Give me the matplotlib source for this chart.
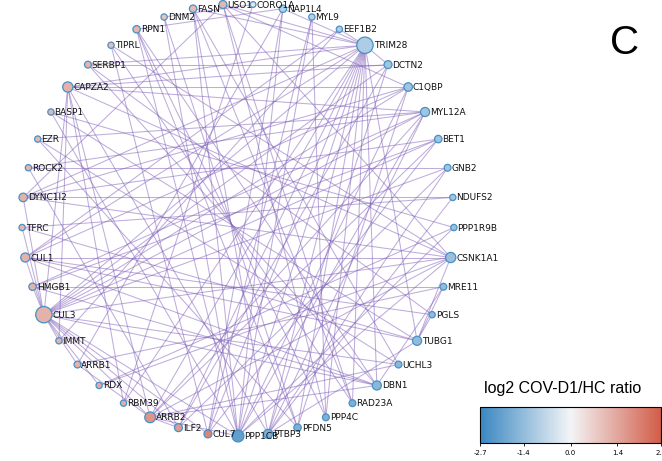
import numpy as np
import matplotlib
matplotlib.use('Agg')
import matplotlib.pyplot as plt
from matplotlib.collections import LineCollection
from matplotlib.colors import LinearSegmentedColormap, Normalize

# proteins in circle order, counter-clockwise starting at USO1 (top)
genes = ['USO1', 'FASN', 'DNM2', 'RPN1', 'TIPRL', 'SERBP1', 'CAPZA2', 'BASP1',
         'EZR', 'ROCK2', 'DYNC1I2', 'TFRC', 'CUL1', 'HMGB1', 'CUL3', 'IMMT',
         'ARRB1', 'RDX', 'RBM39', 'ARRB2', 'ILF2', 'CUL7', 'PPP1CB', 'PTBP3',
         'PFDN5', 'PPP4C', 'RAD23A', 'DBN1', 'UCHL3', 'TUBG1', 'PGLS', 'MRE11',
         'CSNK1A1', 'PPP1R9B', 'NDUFS2', 'GNB2', 'BET1', 'MYL12A', 'C1QBP',
         'DCTN2', 'TRIM28', 'EEF1B2', 'MYL9', 'NAP1L4', 'CORO1A']

# log2 COV-D1/HC ratio per protein
log2_ratio = [1.1, 1.0, 0.9, 1.1, 1.0, 1.1, 1.2, 1.1,
              1.1, 1.1, 1.2, 1.1, 1.2, 1.2, 1.2, 1.2,
              1.2, 1.3, 1.3, 1.7, 1.6, 2.0, -2.1, -1.7,
              -1.7, -1.7, -1.7, -1.5, -1.5, -1.4, -1.4, -1.4,
              -1.3, -1.3, -1.2, -1.2, -1.2, -1.2, -1.2,
              -1.2, -1.0, -1.0, -0.9, -0.9, 0.3]

edges = [
    ('TRIM28', 'USO1'), ('TRIM28', 'FASN'), ('TRIM28', 'EEF1B2'), ('TRIM28', 'NAP1L4'),
    ('TRIM28', 'DCTN2'), ('TRIM28', 'CAPZA2'), ('TRIM28', 'SERBP1'), ('TRIM28', 'DBN1'),
    ('TRIM28', 'TUBG1'), ('TRIM28', 'PPP1CB'), ('TRIM28', 'CUL7'), ('TRIM28', 'PFDN5'),
    ('TRIM28', 'ARRB2'), ('TRIM28', 'RAD23A'), ('TRIM28', 'ILF2'), ('TRIM28', 'PPP4C'),
    ('TRIM28', 'CUL1'), ('TRIM28', 'CUL3'), ('TRIM28', 'RBM39'), ('TRIM28', 'PTBP3'),
    ('TRIM28', 'DYNC1I2'),
    ('CUL3', 'IMMT'), ('CUL3', 'ARRB1'), ('CUL3', 'RDX'), ('CUL3', 'ARRB2'),
    ('CUL3', 'CUL1'), ('CUL3', 'HMGB1'), ('CUL3', 'DYNC1I2'), ('CUL3', 'TFRC'),
    ('CUL3', 'CAPZA2'), ('CUL3', 'C1QBP'), ('CUL3', 'MYL12A'), ('CUL3', 'GNB2'),
    ('CUL3', 'UCHL3'), ('CUL3', 'DBN1'), ('CUL3', 'PPP1CB'), ('CUL3', 'CUL7'),
    ('CUL3', 'ILF2'), ('CUL3', 'BET1'), ('CUL3', 'CSNK1A1'), ('CUL3', 'DCTN2'),
    ('PPP1CB', 'MYL12A'), ('PPP1CB', 'C1QBP'), ('PPP1CB', 'FASN'), ('PPP1CB', 'RPN1'),
    ('PPP1CB', 'DNM2'), ('PPP1CB', 'NAP1L4'), ('PPP1CB', 'MYL9'), ('PPP1CB', 'PPP1R9B'),
    ('PPP1CB', 'ARRB2'), ('PPP1CB', 'CSNK1A1'), ('PPP1CB', 'BASP1'),
    ('CSNK1A1', 'CUL1'), ('CSNK1A1', 'DYNC1I2'), ('CSNK1A1', 'CAPZA2'), ('CSNK1A1', 'TIPRL'),
    ('CSNK1A1', 'USO1'), ('CSNK1A1', 'TUBG1'), ('CSNK1A1', 'ARRB2'), ('CSNK1A1', 'RDX'),
    ('ARRB2', 'ARRB1'), ('ARRB2', 'MYL12A'), ('ARRB2', 'BET1'), ('ARRB2', 'UCHL3'),
    ('ARRB2', 'CAPZA2'), ('ARRB2', 'DBN1'), ('ARRB2', 'ILF2'),
    ('CAPZA2', 'C1QBP'), ('CAPZA2', 'DCTN2'), ('CAPZA2', 'MYL12A'), ('CAPZA2', 'RBM39'),
    ('CAPZA2', 'IMMT'), ('CAPZA2', 'PTBP3'),
    ('CUL1', 'C1QBP'), ('CUL1', 'DBN1'), ('CUL1', 'TUBG1'), ('CUL1', 'PGLS'), ('CUL1', 'EEF1B2'),
    ('MYL12A', 'EZR'), ('MYL12A', 'ROCK2'), ('MYL12A', 'PTBP3'), ('MYL12A', 'HMGB1'),
    ('C1QBP', 'USO1'), ('C1QBP', 'DYNC1I2'), ('C1QBP', 'PFDN5'),
    ('DBN1', 'HMGB1'), ('DBN1', 'SERBP1'), ('DBN1', 'RPN1'), ('DBN1', 'MRE11'),
    ('TUBG1', 'PGLS'), ('TUBG1', 'MRE11'), ('TUBG1', 'TFRC'), ('TUBG1', 'BASP1'),
    ('TUBG1', 'PTBP3'),
    ('PTBP3', 'GNB2'), ('PTBP3', 'NDUFS2'), ('PTBP3', 'FASN'), ('PTBP3', 'DCTN2'),
    ('DYNC1I2', 'NDUFS2'), ('DYNC1I2', 'USO1'), ('DYNC1I2', 'BET1'),
    ('DCTN2', 'SERBP1'), ('DCTN2', 'ILF2'),
    ('USO1', 'PPP4C'), ('USO1', 'RAD23A'),
    ('ILF2', 'GNB2'), ('ILF2', 'ROCK2'),
    ('CUL7', 'NAP1L4'), ('CUL7', 'MYL9'), ('CUL7', 'BET1'), ('CUL7', 'TIPRL'),
    ('FASN', 'UCHL3'), ('FASN', 'RAD23A'),
    ('RPN1', 'PFDN5'), ('RPN1', 'PPP4C'), ('RPN1', 'NAP1L4'),
    ('HMGB1', 'MRE11'), ('HMGB1', 'BET1'),
    ('SERBP1', 'PGLS'),
    ('ARRB1', 'MRE11'), ('ARRB1', 'NAP1L4'),
    ('UCHL3', 'EZR'), ('EZR', 'PFDN5'),
    ('PFDN5', 'DNM2'), ('PPP4C', 'MYL9'), ('RAD23A', 'TIPRL'),
    ('GNB2', 'ROCK2'), ('NDUFS2', 'TFRC'),
    ('PPP1R9B', 'BASP1'), ('PPP1R9B', 'RDX'),
    ('EEF1B2', 'IMMT'), ('CORO1A', 'DNM2'), ('CORO1A', 'RBM39'),
]

# circular layout in pixel space
cx, cy, R = 238, 220, 216
idx = {g: i for i, g in enumerate(genes)}
ang = np.deg2rad(94 + 8 * np.arange(len(genes)))
xs = cx + R * np.cos(ang)
ys = cy - R * np.sin(ang)

# node size follows the number of interactions
degree = np.zeros(len(genes))
for a, b in edges:
    degree[idx[a]] += 1
    degree[idx[b]] += 1
rad_px = 2.3 + 0.28 * degree

cmap = LinearSegmentedColormap.from_list('cov', ['#3a87c1', '#f3f5f7', '#d25d49'])
norm = Normalize(-2.7, 2.7)

fig = plt.figure(figsize=(6.62, 4.61), dpi=100)
ax = fig.add_axes([0, 0, 1, 1])
ax.set_xlim(0, 662)
ax.set_ylim(461, 0)
ax.axis('off')

segs = [[(xs[idx[a]], ys[idx[a]]), (xs[idx[b]], ys[idx[b]])] for a, b in edges]
ax.add_collection(LineCollection(segs, colors='#7d5cb8', linewidths=0.75, alpha=0.5, zorder=1))

ax.scatter(xs, ys, s=(2 * rad_px * 0.72) ** 2, c=log2_ratio, cmap=cmap, norm=norm,
           edgecolors='#4791c3', linewidths=0.9, zorder=2)

for i, g in enumerate(genes):
    ax.text(xs[i] + rad_px[i] + 0.5, ys[i] + 0.5, g, fontsize=6.5, ha='left', va='center',
            color='#111111', zorder=3)

fig.text(625 / 662, 1 - 43 / 461, 'C', fontsize=29, ha='center', va='center',
         family='Liberation Sans')

# colour scale
cax = fig.add_axes([480 / 662, 1 - 443 / 461, 181 / 662, 36 / 461])
cb = matplotlib.colorbar.ColorbarBase(cax, cmap=cmap, norm=norm, orientation='horizontal',
                                      ticks=[-2.7, -1.4, 0.0, 1.4, 2.7])
cb.ax.set_xticklabels(['-2.7', '-1.4', '0.0', '1.4', '2.7'])
cb.ax.tick_params(labelsize=5, length=2, width=0.6, pad=3)
cb.outline.set_linewidth(0.8)
fig.text(563 / 662, 1 - 388 / 461, 'log2 COV-D1/HC ratio', fontsize=11.5, ha='center',
         va='center', family='Liberation Sans')

fig.savefig('out.png', dpi=100)
